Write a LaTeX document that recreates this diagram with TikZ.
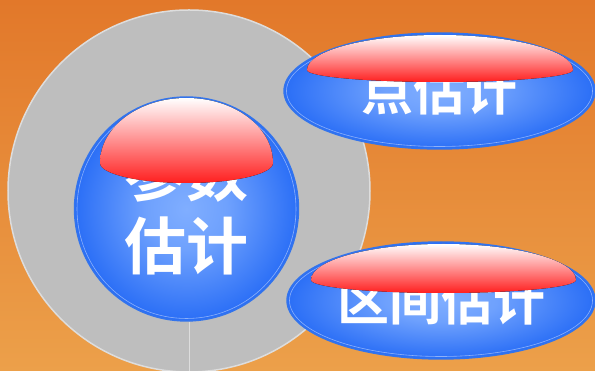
\documentclass[tikz,border=0pt]{standalone}
\usepackage{fontspec}
\newfontfamily\cjk{Noto Sans CJK SC Bold}
\usetikzlibrary{shapes.geometric}
\definecolor{bgtop}{HTML}{E2782A}
\definecolor{bgbot}{HTML}{ECA04A}
\definecolor{ringgray}{HTML}{BEBEBE}
\definecolor{ringline}{HTML}{DDDDDD}
\definecolor{lb}{HTML}{80AEFF}
\definecolor{db}{HTML}{2A6EF6}
\definecolor{bborder}{HTML}{3374EC}
\definecolor{gred}{HTML}{FF1E1E}
\pgfdeclareradialshading{bball}{\pgfpoint{0bp}{0bp}}{color(0bp)=(lb); color(9bp)=(lb!80!db); color(25bp)=(db); color(50bp)=(db)}
\tikzset{
  bluebody/.style={shading=bball, draw=bborder, line width=1.4pt, inner sep=0pt,
    text=white, font=\cjk},
  gloss/.style={top color=white, bottom color=gred, draw=none},
  innerline/.style={draw=white, opacity=.45, line width=.6pt}
}
\begin{document}
\begin{tikzpicture}[x=1pt,y=1pt]
\useasboundingbox (0,0) rectangle (595,371);
\shade[top color=bgtop, bottom color=bgbot] (0,0) rectangle (595,371);
% big grey disc
\node[circle, minimum size=362pt, inner sep=0pt, fill=ringgray, draw=ringline, line width=1.5pt] (ring) at (189,180) {};
\coordinate (bot) at (189.5,0);
% central ball
\node[bluebody, circle, minimum size=224pt, align=center,
      font=\cjk\fontsize{62}{73}\selectfont] (ball) at (186.5,162) {参数\\估计};
\draw[ringline, line width=1pt] (ball.south -| bot) -- (bot);
\draw[innerline] (ball.center) circle[radius=109.5];
\fill[gloss] (100,208) arc[start angle=180,end angle=0,x radius=86.5,y radius=65]
  arc[start angle=0,end angle=-180,x radius=86.5,y radius=20] -- cycle;
% point estimate
\node[bluebody, ellipse, minimum width=311pt, minimum height=116pt,
      font=\cjk\fontsize{52}{60}\selectfont] (pt) at (439.5,280) {点估计};
\draw[innerline] (pt.center) ellipse[x radius=153, y radius=55.5];
\fill[gloss] (307,301) arc[start angle=180,end angle=0,x radius=133,y radius=35]
  arc[start angle=0,end angle=-180,x radius=133,y radius=12] -- cycle;
% interval estimate
\node[bluebody, ellipse, minimum width=308pt, minimum height=117pt,
      font=\cjk\fontsize{52}{60}\selectfont] (iv) at (441,70.5) {区间估计};
\draw[innerline] (iv.center) ellipse[x radius=151.5, y radius=56];
\fill[gloss] (311,91) arc[start angle=180,end angle=0,x radius=132.5,y radius=36]
  arc[start angle=0,end angle=-180,x radius=132.5,y radius=13] -- cycle;
\end{tikzpicture}
\end{document}
